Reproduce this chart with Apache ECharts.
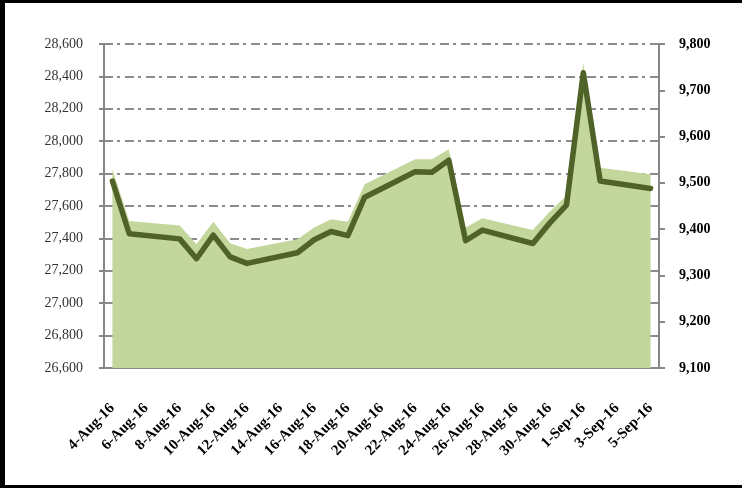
<!DOCTYPE html>
<html>
<head>
<meta charset="utf-8">
<script src="https://cdn.jsdelivr.net/npm/echarts@6/dist/echarts.min.js"></script>
<style>
  html, body { margin: 0; padding: 0; background: #fff; }
  #wrap { position: relative; width: 742px; height: 488px; overflow: hidden; }
  #chart { position: absolute; left: 0; top: 0; width: 742px; height: 488px; }
  #frame {
    position: absolute; left: 0; top: 0; width: 760px; height: 482px;
    border-left: 5px solid #000; border-top: 3px solid #000; border-bottom: 3px solid #000;
    pointer-events: none;
  }
</style>
</head>
<body>
<div id="wrap">
  <div id="chart"></div>
  <div id="frame"></div>
</div>
<script>
// every calendar day on the axis, trading days carry values
const days = [
  '4-Aug-16', '5-Aug-16', '6-Aug-16', '7-Aug-16', '8-Aug-16', '9-Aug-16', '10-Aug-16',
  '11-Aug-16', '12-Aug-16', '13-Aug-16', '14-Aug-16', '15-Aug-16', '16-Aug-16', '17-Aug-16',
  '18-Aug-16', '19-Aug-16', '20-Aug-16', '21-Aug-16', '22-Aug-16', '23-Aug-16', '24-Aug-16',
  '25-Aug-16', '26-Aug-16', '27-Aug-16', '28-Aug-16', '29-Aug-16', '30-Aug-16', '31-Aug-16',
  '1-Sep-16', '2-Sep-16', '3-Sep-16', '4-Sep-16', '5-Sep-16'
]

// area, left axis
const areaValues = [
  27827, 27507, null, null, 27479, 27364, 27503,
  27370, 27335, null, null, 27394, 27468, 27518,
  27503, 27734, null, null, 27888, 27888, 27950,
  27468, 27524, null, null, 27452, 27565, 27664,
  28481, 27836, null, null, 27796
]

// line, right axis
const lineValues = [
  9504, 9390, null, null, 9379, 9336, 9387,
  9340, 9326, null, null, 9349, 9377, 9395,
  9386, 9469, null, null, 9524, 9523, 9549,
  9375, 9398, null, null, 9369, 9413, 9452,
  9738, 9504, null, null, 9488
]

const leftAxis = { min: 26600, max: 28600, step: 200 }
const rightAxis = { min: 9100, max: 9800, step: 100 }

const axisGrey = '#868686'
const serif = 'Liberation Serif'
const fmt = v => v.toLocaleString('en-US')

const chart = echarts.init(document.getElementById('chart'))

chart.setOption({
  animation: false,
  grid: { left: 104, right: 83, top: 44, bottom: 120 },
  xAxis: {
    type: 'category',
    data: days,
    boundaryGap: true,
    axisLine: { lineStyle: { color: axisGrey, width: 2 } },
    axisTick: { interval: 1, length: 5, lineStyle: { color: axisGrey, width: 2 } },
    axisLabel: {
      interval: 1,
      rotate: 45,
      margin: 38,
      color: '#000',
      fontFamily: serif,
      fontWeight: 'bold',
      fontSize: 15
    },
    splitLine: { show: false }
  },
  yAxis: [
    {
      type: 'value',
      min: leftAxis.min,
      max: leftAxis.max,
      interval: leftAxis.step,
      axisLine: { show: true, lineStyle: { color: axisGrey, width: 2 } },
      axisTick: { show: true, length: 5, lineStyle: { color: axisGrey, width: 2 } },
      axisLabel: { margin: 21, color: '#333', fontFamily: serif, fontSize: 14, formatter: fmt },
      splitLine: {
        show: true,
        lineStyle: { color: '#8c8c8c', width: 2, type: [9, 4, 3, 5] }
      }
    },
    {
      type: 'value',
      position: 'right',
      min: rightAxis.min,
      max: rightAxis.max,
      interval: rightAxis.step,
      axisLine: { show: true, lineStyle: { color: axisGrey, width: 2 } },
      axisTick: { show: true, length: 6, lineStyle: { color: axisGrey, width: 2 } },
      axisLabel: { margin: 20, color: '#000', fontFamily: serif, fontWeight: 'bold', fontSize: 14, formatter: fmt },
      splitLine: { show: false }
    }
  ],
  series: [
    {
      type: 'line',
      yAxisIndex: 0,
      data: areaValues,
      connectNulls: true,
      symbol: 'none',
      lineStyle: { width: 0 },
      areaStyle: { color: '#c3d69b', opacity: 1, origin: 'start' },
      z: 2
    },
    {
      type: 'line',
      yAxisIndex: 1,
      data: lineValues,
      connectNulls: true,
      symbol: 'none',
      lineStyle: { color: '#4f6228', width: 5.5, cap: 'round', join: 'round' },
      z: 3
    }
  ]
})
</script>
</body>
</html>
